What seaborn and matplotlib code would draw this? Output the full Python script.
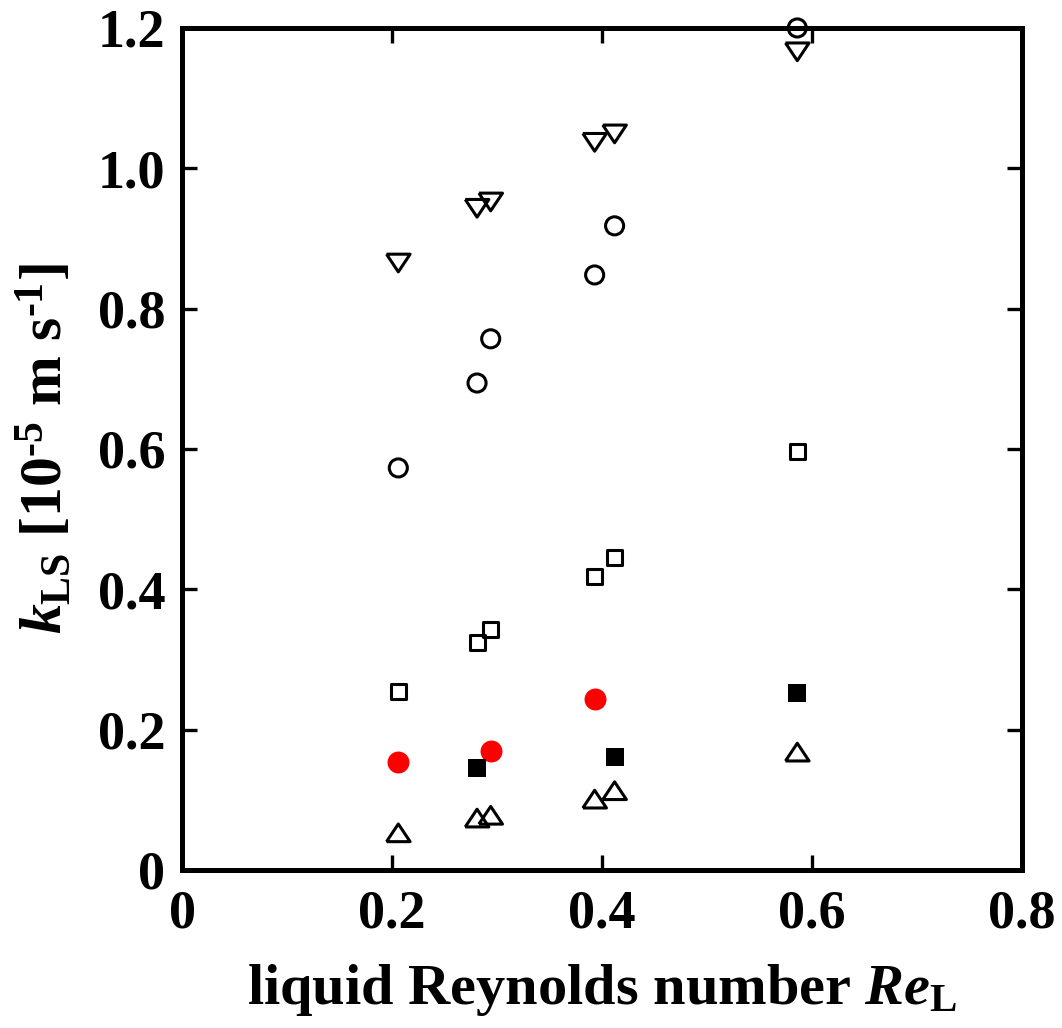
import matplotlib
matplotlib.use("Agg")
import matplotlib.pyplot as plt
import seaborn as sns
import pandas as pd

# ---- data ----
re_l = [0.206, 0.281, 0.294, 0.393, 0.412, 0.586]
k_tri_down = [0.865, 0.943, 0.952, 1.037, 1.049, 1.166]
k_circle_open = [0.573, 0.694, 0.757, 0.848, 0.918, 1.200]
k_square_open = [0.255, 0.324, 0.343, 0.418, 0.445, 0.596]
re_red = [0.206, 0.294, 0.393]
k_red = [0.154, 0.170, 0.243]
re_sq_filled = [0.281, 0.412, 0.586]
k_sq_filled = [0.145, 0.161, 0.252]
k_tri_up = [0.053, 0.074, 0.078, 0.101, 0.113, 0.168]

x_ticks = [0, 0.2, 0.4, 0.6, 0.8]
x_tick_labels = ["0", "0.2", "0.4", "0.6", "0.8"]
y_ticks = [0, 0.2, 0.4, 0.6, 0.8, 1.0, 1.2]
y_tick_labels = ["0", "0.2", "0.4", "0.6", "0.8", "1.0", "1.2"]

sns.set_theme(style="ticks")
plt.rcParams["font.family"] = ["Liberation Serif", "DejaVu Serif"]
plt.rcParams["font.weight"] = "bold"
plt.rcParams["mathtext.fontset"] = "custom"
plt.rcParams["mathtext.rm"] = "Liberation Serif:bold"
plt.rcParams["mathtext.it"] = "Liberation Serif:italic:bold"
plt.rcParams["mathtext.bf"] = "Liberation Serif:bold"
plt.rcParams["axes.labelcolor"] = "black"
plt.rcParams["text.color"] = "black"

fig = plt.figure(figsize=(10.62, 10.28), dpi=100)
ax = fig.add_axes([0.1714, 0.1537, 0.7909, 0.8191])

tri_down = [(-1, 0.75), (1, 0.75), (0, -0.75), (-1, 0.75)]
tri_up = [(-1, -0.75), (1, -0.75), (0, 0.75), (-1, -0.75)]

lw = 2.2
def open_series(x, y, marker, size):
    sns.scatterplot(x=x, y=y, ax=ax, marker=marker, s=size**2,
                    facecolors="none", edgecolor="black", linewidth=lw,
                    clip_on=False, zorder=3)

open_series(re_l, k_tri_down, tri_down, 17)
open_series(re_l, k_circle_open, "o", 13)
open_series(re_l, k_square_open, "s", 10.8)
open_series(re_l, k_tri_up, tri_up, 17)
sns.scatterplot(x=re_red, y=k_red, ax=ax, marker="o", s=15.8**2,
                color="#ff0000", linewidth=0, clip_on=False, zorder=3)
sns.scatterplot(x=re_sq_filled, y=k_sq_filled, ax=ax, marker="s", s=13**2,
                color="black", linewidth=0, clip_on=False, zorder=3)

ax.set_xlim(0, 0.8)
ax.set_ylim(0, 1.2)
ax.set_xticks(x_ticks)
ax.set_xticklabels(x_tick_labels)
ax.set_yticks(y_ticks)
ax.set_yticklabels(y_tick_labels)

for sp in ax.spines.values():
    sp.set_visible(True)
    sp.set_linewidth(3.6)
    sp.set_color("black")

ax.tick_params(axis="both", which="major", direction="in", length=11, width=2.4,
               top=True, right=True, labelsize=39, color="black", labelcolor="black")
ax.tick_params(axis="x", pad=14)
ax.tick_params(axis="y", pad=12)
for lab in ax.get_xticklabels() + ax.get_yticklabels():
    lab.set_fontweight("bold")

ax.set_xlabel(r"liquid Reynolds number $\mathit{Re}_{\mathrm{L}}$",
              fontsize=42, fontweight="bold", labelpad=16)
ax.set_ylabel(r"$\mathit{k}_{\mathrm{LS}}$ [10$^{\text{-5}}$ m s$^{\text{-1}}$]",
              fontsize=43, fontweight="bold", labelpad=16)

fig.savefig("out.png", dpi=100, facecolor="white")
